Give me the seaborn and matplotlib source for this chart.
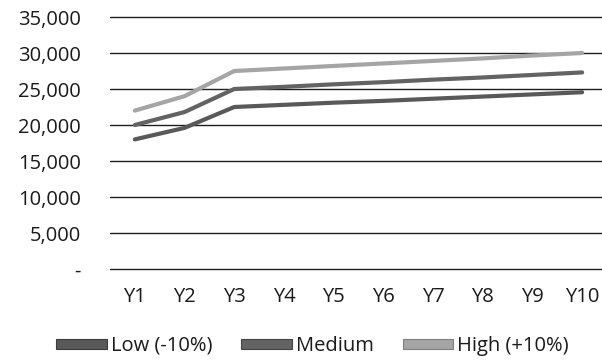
import matplotlib
matplotlib.use("Agg")
import matplotlib.pyplot as plt
from matplotlib.patches import Patch
import seaborn as sns
import pandas as pd

years = ["Y1", "Y2", "Y3", "Y4", "Y5", "Y6", "Y7", "Y8", "Y9", "Y10"]
low = [18000, 19600, 22500, 22800, 23100, 23350, 23650, 23950, 24250, 24550]
medium = [20000, 21800, 25000, 25300, 25650, 25950, 26300, 26600, 26950, 27300]
high = [22000, 24000, 27500, 27850, 28200, 28550, 28900, 29250, 29650, 30000]
series = ["Low (-10%)", "Medium", "High (+10%)"]
colors = ["#595959", "#636363", "#a5a5a5"]
edge_colors = ["#3c3c3c", "#444444", "#808080"]
y_ticks = [0, 5000, 10000, 15000, 20000, 25000, 30000, 35000]
y_labels = ["-", "5,000", "10,000", "15,000", "20,000", "25,000", "30,000", "35,000"]

rows = []
for name, vals in zip(series, [low, medium, high]):
    for i, (yr, v) in enumerate(zip(years, vals)):
        rows.append({"year": yr, "idx": i, "value": v, "scenario": name})
df = pd.DataFrame(rows)

sns.set_theme(style="white")
plt.rcParams["font.family"] = ["Open Sans", "DejaVu Sans"]

fig = plt.figure(figsize=(6.02, 3.6), dpi=100)
ax = fig.add_axes([110 / 602, 1 - 269 / 360, 1 - 110 / 602, (269 - 17) / 360])

sns.lineplot(data=df, x="idx", y="value", hue="scenario", hue_order=series,
             palette=colors, linewidth=3.0, ax=ax, legend=False, zorder=3)

ax.set_xlim(-0.5, 9.4)
ax.set_ylim(0, 35000)
ax.set_yticks(y_ticks)
ax.set_yticklabels(y_labels)
ax.set_xticks(range(len(years)))
ax.set_xticklabels(years)
for yv in y_ticks:
    ax.axhline(yv, color="#1e1e1e", linewidth=1.0, zorder=1, clip_on=False)
for s in ax.spines.values():
    s.set_visible(False)
ax.tick_params(axis="both", length=0, labelsize=14.5, colors="#1a1a1a")
ax.tick_params(axis="y", pad=21)
ax.tick_params(axis="x", pad=13)
ax.set_xlabel("")
ax.set_ylabel("")
ax.grid(False)

handles = [Patch(facecolor=c, edgecolor=e, linewidth=0.8) for c, e in zip(colors, edge_colors)]
fig.legend(handles, series, loc="center", bbox_to_anchor=(0.519, 1 - 346 / 360), ncol=3,
           frameon=False, fontsize=14.5, handlelength=2.5, handleheight=0.35,
           handletextpad=0.2, columnspacing=1.45, labelcolor="#1a1a1a")

fig.savefig("out.png", dpi=100)
